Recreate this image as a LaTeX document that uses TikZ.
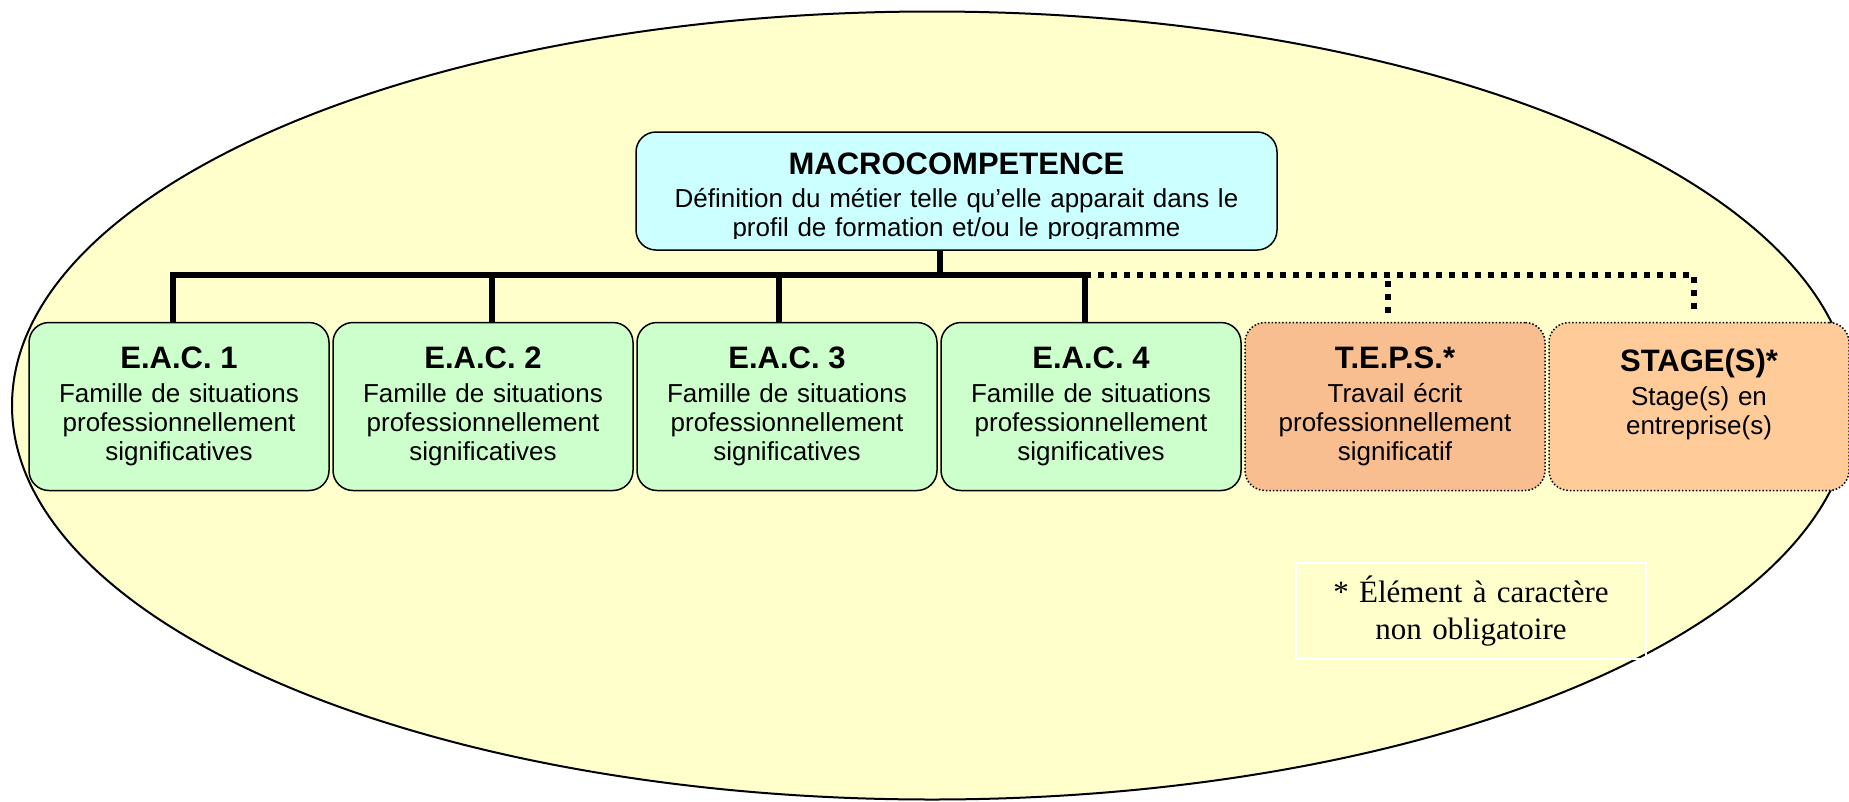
\documentclass[tikz,border=0pt]{standalone}
\usepackage{fontspec}
\setmainfont{Liberation Sans}
\newfontfamily\notefont{Liberation Serif}
\newcommand{\headfont}{\fontsize{31}{34}\selectfont\bfseries}
\newcommand{\bodyfont}{\fontsize{26}{29}\selectfont}
\definecolor{bgyellow}{HTML}{FFFFCC}
\definecolor{topcyan}{HTML}{CCFFFF}
\definecolor{eacgreen}{HTML}{CCFFCC}
\definecolor{tepsorange}{HTML}{F8BE8F}
\definecolor{stageorange}{HTML}{FFCC99}

\begin{document}
\begin{tikzpicture}[x=1pt,y=-1pt]
\tikzset{box/.style = {shape=rectangle,draw,rounded corners=20pt,line width=1.5pt,minimum width=300pt,minimum height=168pt,text width=290pt,align=center,font=\bodyfont},
    eac/.style = {box,fill=eacgreen},
    option/.style = {box,dotted},
    link/.style = {line width=6pt},
    optlink/.style = {line width=6pt,dash pattern=on 6pt off 7pt}}
\useasboundingbox (0,0) rectangle (1849,801);
% background
\draw[fill=bgyellow,line width=2pt] (932,405.5) ellipse [x radius=920pt,y radius=394pt];
% top box
\node[box,fill=topcyan,minimum width=641pt,minimum height=118pt,text width=620pt] (macro) at (956.5,191) {};
\begin{scope}
\clip (macro.north west) rectangle ([yshift=12pt]macro.south east);
\node[anchor=north,inner sep=0pt,text width=620pt,align=center,font=\bodyfont] (macrotext) at (956.5,153) {{\headfont MACROCOMPETENCE}\\[4pt]Définition du métier telle qu’elle apparait dans le\\profil de formation et/ou le programme};
\end{scope}
% boxes
\foreach \i/\x in {1/179,2/483,3/787,4/1091} {
    \node[eac] (eac\i) at (\x,406.5) {{\headfont E.A.C. \i}\\[5pt]Famille de situations\\professionnellement\\significatives};
}
\node[option,fill=tepsorange] (teps) at (1395,406.5) {{\headfont T.E.P.S.*}\\[5pt]Travail écrit\\professionnellement\\significatif};
\node[option,fill=stageorange] (stage) at (1699,406.5) {{\headfont STAGE(S)*}\\[5pt]Stage(s) en\\entreprise(s)\\\mbox{}};
% links
\coordinate (j0) at (940,275);
\draw[link] (macro.south -| j0) -- (j0);
\foreach \i/\dx in {1/-6,2/9,3/-8,4/-6} {
    \draw[link] ([xshift=\dx pt]eac\i.north) |- (j0);
}
\draw[optlink] ([xshift=-6pt]eac4.north |- j0) -| ([xshift=-5pt,yshift=9pt]stage.north);
\draw[optlink] ([xshift=-7pt,yshift=9pt]teps.north) -- ([xshift=-7pt]teps.north |- j0);
% note
\node[draw=white,line width=1.5pt,minimum width=350pt,minimum height=96pt,text width=340pt,align=center,font=\notefont\fontsize{31}{37}\selectfont] (note) at (1471,611) {* Élément à caractère\\non obligatoire};
\end{tikzpicture}
\end{document}
